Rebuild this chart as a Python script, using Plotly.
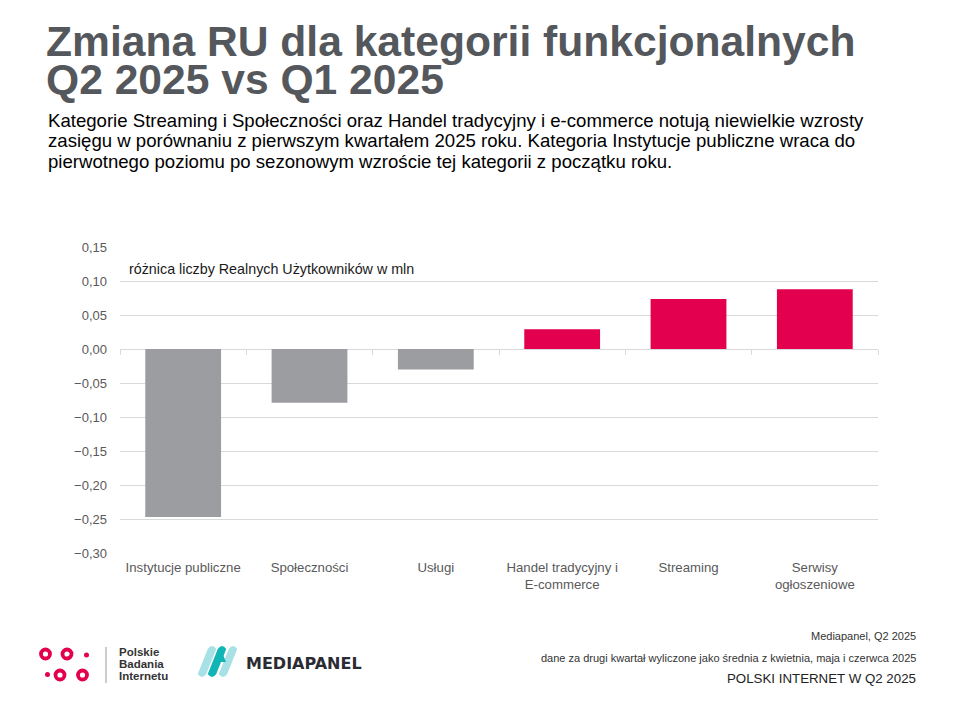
import plotly.graph_objects as go

categories = ["Instytucje publiczne", "Społeczności", "Usługi",
              "Handel tradycyjny i<br>E-commerce", "Streaming", "Serwisy<br>ogłoszeniowe"]
values = [-0.247, -0.079, -0.030, 0.029, 0.0735, 0.088]
y_ticks = [0.15, 0.10, 0.05, 0.00, -0.05, -0.10, -0.15, -0.20, -0.25, -0.30]

title_lines = ["Zmiana RU dla kategorii funkcjonalnych", "Q2 2025 vs Q1 2025"]
subtitle_lines = [
    "Kategorie Streaming i Społeczności oraz Handel tradycyjny i e-commerce notują niewielkie wzrosty",
    "zasięgu w porównaniu z pierwszym kwartałem 2025 roku. Kategoria Instytucje publiczne wraca do",
    "pierwotnego poziomu po sezonowym wzroście tej kategorii z początku roku.",
]
axis_note = "różnica liczby Realnych Użytkowników w mln"
footer_lines = ["Mediapanel, Q2 2025",
                "dane za drugi kwartał wyliczone jako średnia z kwietnia, maja i czerwca 2025",
                "POLSKI INTERNET W Q2 2025"]
logo_words = ["Polskie", "Badania", "Internetu"]
logo2_word = "MEDIAPANEL"

W, H = 958, 721
OFF = 8  # page offset of the figure inside the browser window
SX0, SX1, SY0, SY1 = 120, 878, 247, 553
ML, MT = SX0 - OFF, SY0 - OFF
MR, MB = W - (SX1 - OFF), H - (SY1 - OFF)
PW, PH = SX1 - SX0, SY1 - SY0

def px(x):
    return (x - SX0) / PW

def py(y):
    return (SY1 - y) / PH

GREY = "#9b9da1"
PINK = "#e2004f"
colors = [GREY if v < 0 else PINK for v in values]
FONT = "Liberation Sans, Arial, sans-serif"

fig = go.Figure()
fig.add_trace(go.Bar(x=categories, y=values, marker=dict(color=colors, line=dict(width=0)),
                     width=0.6, hoverinfo="skip", showlegend=False))
n = len(categories)
fig.add_trace(go.Scatter(x=[-0.5, n - 0.5], y=[0, 0], xaxis="x2", mode="lines",
                         line=dict(width=0), hoverinfo="skip", showlegend=False))

fig.update_layout(
    width=W, height=H,
    margin=dict(l=ML, r=MR, t=MT, b=MB, autoexpand=False),
    paper_bgcolor="white", plot_bgcolor="white",
    font=dict(family=FONT, color="#595959", size=12),
    separators=", ",
    xaxis=dict(type="category", showgrid=False, showline=False, zeroline=False,
               tickfont=dict(size=13.2, color="#595959"), ticks="", ticklabelstandoff=5),
    xaxis2=dict(overlaying="x", anchor="free", position=(0 - y_ticks[-1]) / (y_ticks[0] - y_ticks[-1]),
                range=[-0.5, n - 0.5], tickmode="array",
                tickvals=[i - 0.5 for i in range(n + 1)], ticks="outside", ticklen=5,
                tickcolor="#d9d9d9", showticklabels=False, showgrid=False, showline=False,
                zeroline=False, side="bottom"),
    yaxis=dict(range=[y_ticks[-1], y_ticks[0]], tickmode="array", tickvals=y_ticks,
               tickformat=".2f", showgrid=True, gridcolor="#d9d9d9", gridwidth=1,
               zeroline=True, zerolinecolor="#d9d9d9", zerolinewidth=1,
               showline=False, ticks="", ticklabelstandoff=12,
               tickfont=dict(size=13, color="#595959")),
)

def note(text, x, y, size, color, xanchor="left", family=FONT):
    return dict(text=text, x=px(x), y=py(y), xref="paper", yref="paper",
                xanchor=xanchor, yanchor="middle", showarrow=False,
                font=dict(size=size, color=color, family=family))

ann = []
ann.append(note("<b>" + title_lines[0] + "</b>", 44, 41, 42.6, "#54575b"))
ann.append(note("<b>" + title_lines[1] + "</b>", 44, 79.5, 42.6, "#54575b"))
for i, line in enumerate(subtitle_lines):
    ann.append(note(line, 46, 121 + 20 * i, 18.6, "#000000"))
ann.append(note(axis_note, 127, 269, 14.3, "#1a1a1a"))
NARROW = "Liberation Sans Narrow, Arial Narrow, sans-serif"
ann.append(note(footer_lines[0], 918, 636, 11, "#333333", "right", NARROW))
ann.append(note(footer_lines[1], 918, 658, 11, "#333333", "right", NARROW))
ann.append(note(footer_lines[2], 918, 678, 13.3, "#222222", "right"))
for i, t in enumerate(logo_words):
    ann.append(note("<b>" + t + "</b>", 117, 651.5 + 12 * i, 11.5, "#333333"))
ann.append(note("<b>" + logo2_word + "</b>", 244, 663, 16, "#2b2b33", "left", "DejaVu Sans, sans-serif"))
fig.update_layout(annotations=ann)

shapes = []
def circle(cx, cy, r, ring):
    return dict(type="circle", xref="paper", yref="paper",
                x0=px(cx - r), x1=px(cx + r), y0=py(cy + r), y1=py(cy - r),
                fillcolor="white" if ring else PINK,
                line=dict(color=PINK, width=3.8 if ring else 0))
for cx, cy in [(45.5, 654), (67, 654), (60, 675), (82.5, 675)]:
    shapes.append(circle(cx, cy, 4.5, True))
shapes.append(circle(86.5, 655, 2.5, False))
shapes.append(circle(47.5, 674.5, 2.5, False))
shapes.append(dict(type="line", xref="paper", yref="paper", x0=px(106), x1=px(106), y0=py(647), y1=py(683),
                   line=dict(color="#999999", width=1)))

def slant(x_bottom, color, w=8.5):
    xb, yb = x_bottom, 674
    xt, yt = x_bottom + 10, 649
    path = (f"M {px(xb - w/2)},{py(yb)} L {px(xt - w/2)},{py(yt)} "
            f"Q {px(xt)},{py(yt - 6)} {px(xt + w/2)},{py(yt)} "
            f"L {px(xb + w/2)},{py(yb)} Q {px(xb)},{py(yb + 6)} {px(xb - w/2)},{py(yb)} Z")
    return dict(type="path", xref="paper", yref="paper", path=path, fillcolor=color,
                line=dict(width=0), layer="above")
shapes.append(slant(202, "#a8e1e5"))
shapes.append(slant(223, "#a8e1e5"))
shapes.append(slant(212, "#12b5b5"))
shapes.append(dict(type="path", xref="paper", yref="paper",
                   path=f"M {px(218)},{py(662)} L {px(222)},{py(652)} L {px(226)},{py(662)} Z",
                   fillcolor="#12b5b5", line=dict(width=0)))
fig.update_layout(shapes=shapes)

fig.write_html("out.html")
